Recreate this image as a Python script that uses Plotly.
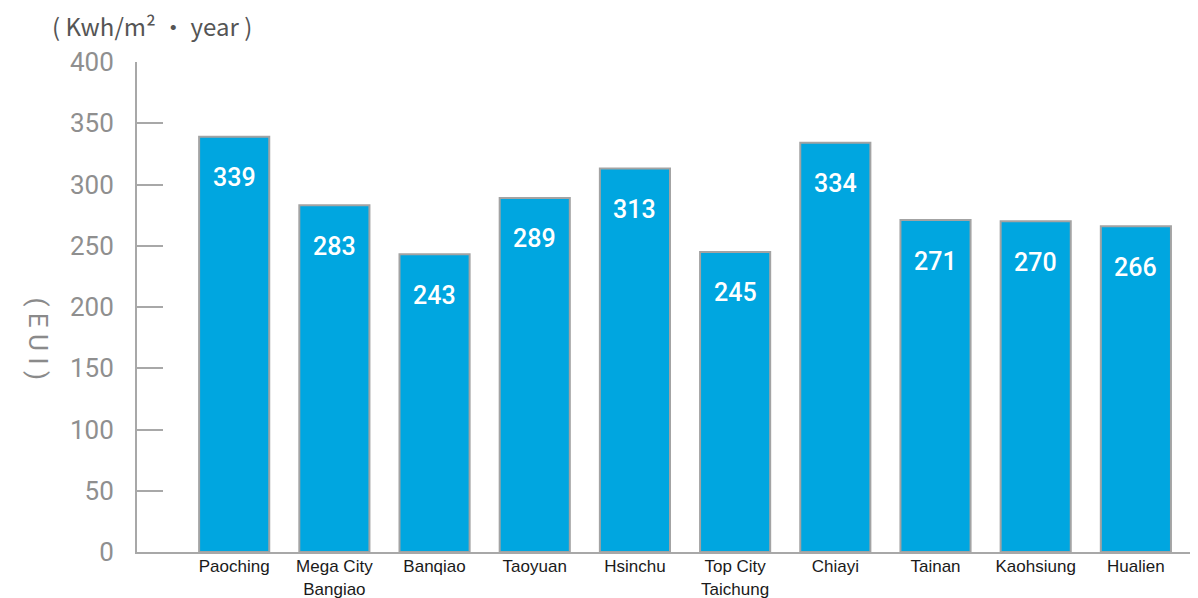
import plotly.graph_objects as go

categories = ["Paoching", "Mega City<br>Bangiao", "Banqiao", "Taoyuan", "Hsinchu",
              "Top City<br>Taichung", "Chiayi", "Tainan", "Kaohsiung", "Hualien"]
eui = [339, 283, 243, 289, 313, 245, 334, 271, 270, 266]
y_ticks = [0, 50, 100, 150, 200, 250, 300, 350, 400]

idx = list(range(len(categories)))

fig = go.Figure()
fig.add_trace(go.Bar(
    x=idx, y=eui, width=0.7,
    marker=dict(color="#00a6e0", line=dict(color="#a3a3a3", width=2)),
    hoverinfo="x+y",
))

annotations = []
for i, v in zip(idx, eui):
    annotations.append(dict(x=i, y=v, xref="x", yref="y", text=str(v), showarrow=False,
                            yshift=-41, font=dict(family="Roboto", size=25, color="white", weight=500)))

annotations.append(dict(xref="paper", yref="paper", x=-0.109, y=0.435, text="( E U I )",
                        textangle=90, showarrow=False,
                        font=dict(family="Roboto", size=26, color="#8a8a8a")))
annotations.append(dict(xref="paper", yref="paper", x=-0.082, y=1.035, xanchor="left", yanchor="bottom",
                        text="( Kwh/m² ・ year )", showarrow=False,
                        font=dict(family="Noto Sans CJK JP", size=24, color="#555555")))

fig.update_layout(
    width=1190, height=590,
    margin=dict(l=129, r=0, t=54, b=46),
    plot_bgcolor="white", paper_bgcolor="white",
    showlegend=False,
    annotations=annotations,
    xaxis=dict(
        range=[-0.97, 9.62], tickmode="array", tickvals=idx, ticktext=categories,
        showgrid=False, zeroline=False, showline=True, linecolor="#a8a8a8", linewidth=2,
        ticks="", tickfont=dict(family="Liberation Sans", size=17, color="#1a1a1a"),
        ticklabelstandoff=-2,
        automargin=False, fixedrange=True,
    ),
    yaxis=dict(
        range=[0, 400], tickmode="array", tickvals=y_ticks,
        showgrid=False, zeroline=False, showline=True, linecolor="#a8a8a8", linewidth=2,
        ticks="inside", ticklen=26, tickwidth=2, tickcolor="#a8a8a8",
        ticklabelstandoff=16,
        tickfont=dict(family="Roboto", size=26, color="#8f8f8f"),
        automargin=False, fixedrange=True,
    ),
)

fig.write_html("out.html")
